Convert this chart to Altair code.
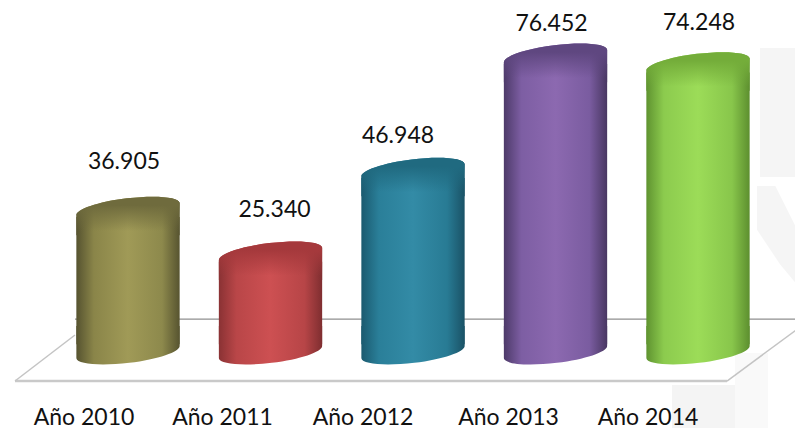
import altair as alt
import pandas as pd

categories = ["Año 2010", "Año 2011", "Año 2012", "Año 2013", "Año 2014"]
values = [36.905, 25.340, 46.948, 76.452, 74.248]
labels = ["36.905", "25.340", "46.948", "76.452", "74.248"]

body_stops = [
    ["#565330", "#8a8549", "#a09a57", "#8d894c", "#575430"],
    ["#8a3234", "#b94648", "#cd5052", "#b74547", "#7f2e30"],
    ["#1b5a6f", "#2a7f99", "#338ba6", "#287b94", "#1a5266"],
    ["#4d3a69", "#7d5ea3", "#8c69b0", "#7a5ca0", "#493762"],
    ["#5f9330", "#8ccb4e", "#9cdc58", "#88c64b", "#5d8f2f"],
]
cap_colors = ["#6f6b3d", "#a5393c", "#206a80", "#5f4780", "#74ad3a"]
label_dx = [-4, 4, -15, -4, 1]
label_dy = [-47, -44, -34, -32, -42]
axis_dx = [-44, -48, -50, -47, -50]

W, H = 787, 420
FONT = "Lato"
x_scale = alt.Scale(domain=categories, range=[48.75, 761.25], paddingInner=0, paddingOuter=0)
y_scale = alt.Scale(domain=[-19.64, 88.9], nice=False, zero=False)
X = alt.X("cat:N", scale=x_scale, axis=None)
Y = alt.Y("v:Q", scale=y_scale, axis=None)
BAR_W = 104
SYM = BAR_W * BAR_W
TOP_BODY = "M -0.993,0.122 A 1 0.21 -7 0 1 0.993,-0.122 L 0.993,0.5 L -0.993,0.5 Z"
BOTTOM_BODY = "M 0.993,-0.122 A 1 0.21 -7 0 1 -0.993,0.122 L -0.993,-0.5 L 0.993,-0.5 Z"
SHADE = "M -0.993,0.122 A 1 0.21 -7 0 1 0.993,-0.122 L 0.993,0.42 L -0.993,0.42 Z"
WATERMARK = "M 0,0 L 0.4,0 L 1,1.2 L 1,2.3 L 0.5,1.7 L 0,0.95 Z"


def grad(stops):
    offs = [0, 0.17, 0.5, 0.83, 1]
    return alt.Gradient(
        gradient="linear", x1=0, x2=1, y1=0, y2=0,
        stops=[alt.GradientStop(offset=o, color=c) for o, c in zip(offs, stops)],
    )


def shade(col):
    return alt.Gradient(
        gradient="linear", x1=0, x2=0, y1=0, y2=1,
        stops=[alt.GradientStop(offset=0.25, color=col), alt.GradientStop(offset=1, color=col + "00")],
    )


one = alt.Chart(pd.DataFrame({"a": [0]}))
layers = []
# faint background watermark
for x0, x1, y0, y1, col in [
    (752, 795, 40, 169, "#f5f5f5"),
    (664, 727, 377, 420, "#f4f4f4"),
    (727, 760, 345, 420, "#f9f9f9"),
]:
    layers.append(
        one.mark_rect(color=col).encode(
            x=alt.value(x0), x2=alt.value(x1), y=alt.value(y0), y2=alt.value(y1)
        )
    )
layers.append(
    one.mark_point(shape=WATERMARK, size=8464, filled=True, fill="#f5f5f5", opacity=1, strokeWidth=0).encode(
        x=alt.value(749), y=alt.value(178)
    )
)

floor_rules = [
    (67, 795, "#8f8f8f", 1.2, 8.5, 8.5),
    (7, 719, "#c9c9c9", 2.5, -7.5, -7.5),
    (7, 67, "#c4c4c4", 1.5, -7.5, 4.4),
    (719, 795, "#c4c4c4", 1.5, -7.5, 7),
]
for x0, x1, col, sw, y0, y1 in floor_rules:
    layers.append(
        one.mark_rule(color=col, strokeWidth=sw).encode(
            x=alt.value(x0), x2=alt.value(x1),
            y=alt.Y(datum=y0, scale=y_scale, axis=None),
            y2=alt.Y2(datum=y1),
        )
    )

for i, cat in enumerate(categories):
    d = pd.DataFrame({"cat": [cat], "v": [values[i]], "lo": [2.0], "zero": [0.0], "body": [values[i] - 2.0], "t": [labels[i]], "name": [cat]})
    base = alt.Chart(d)
    g = grad(body_stops[i])
    layers.append(base.mark_bar(size=BAR_W - 0.7, fill=g).encode(x=X, y=alt.Y("body:Q", scale=y_scale, axis=None), y2="lo:Q"))
    layers.append(base.mark_point(shape=TOP_BODY, size=SYM, filled=True, fill=g, opacity=1, strokeWidth=0).encode(x=X, y=Y))
    layers.append(base.mark_point(shape=BOTTOM_BODY, size=SYM, filled=True, fill=g, opacity=1, strokeWidth=0).encode(x=X, y=alt.Y("zero:Q", scale=y_scale, axis=None)))
    layers.append(base.mark_point(shape=SHADE, size=SYM, filled=True, fill=shade(cap_colors[i]), opacity=1, strokeWidth=0).encode(x=X, y=Y))
    layers.append(base.mark_text(font=FONT, fontSize=23, color="#111111", dx=label_dx[i], dy=label_dy[i]).encode(x=X, y=Y, text="t:N"))
    layers.append(base.mark_text(font=FONT, fontSize=23, color="#111111", dx=axis_dx[i]).encode(x=X, y=alt.value(410), text="name:N"))

chart = (
    alt.layer(*layers)
    .properties(width=W, height=H, padding=0, autosize=alt.AutoSizeParams(type="none"), background="white")
    .configure_view(stroke=None)
)
chart.save("out.html", embed_options={"renderer": "svg", "actions": False})
